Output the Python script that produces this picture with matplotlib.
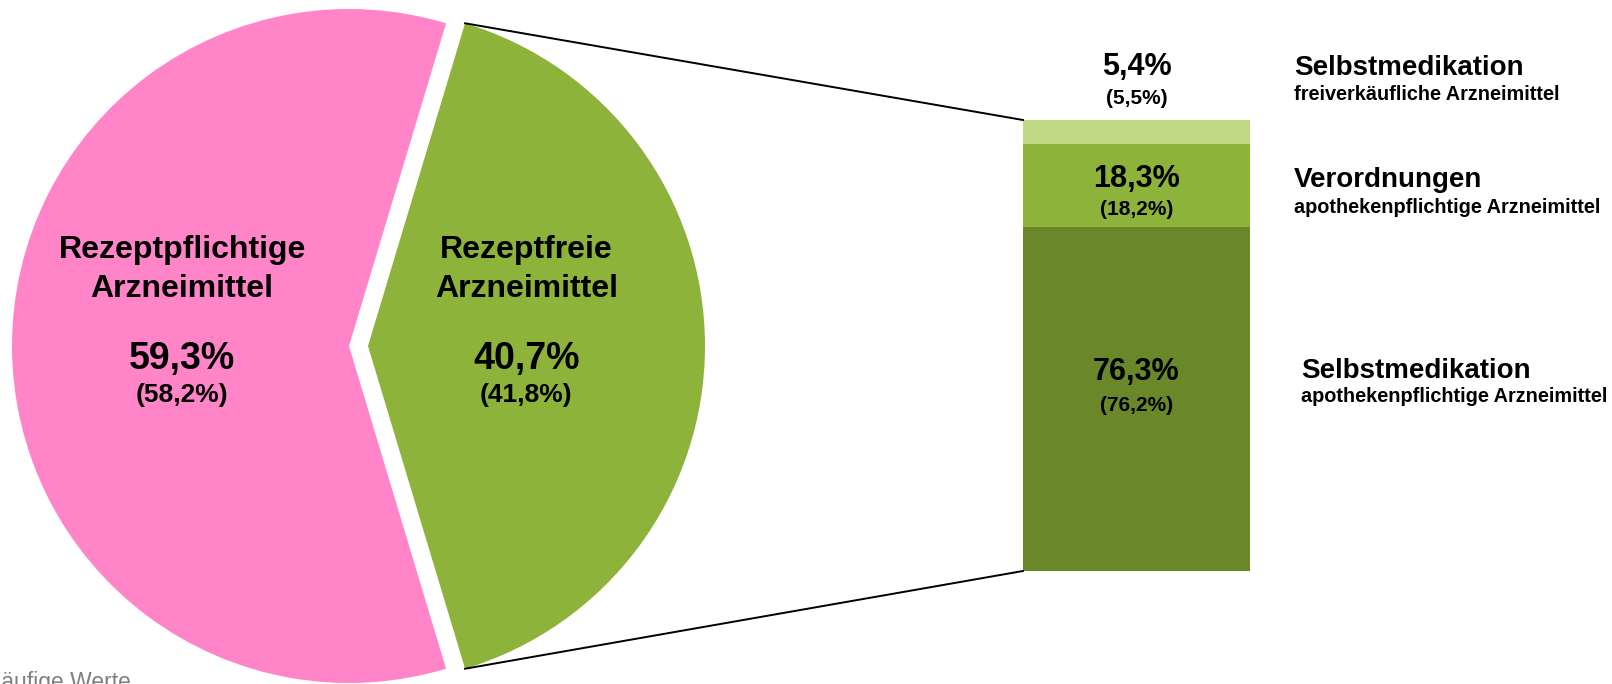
import numpy as np
import matplotlib.pyplot as plt

plt.rcParams['font.family'] = ['Liberation Sans', 'DejaVu Sans']

# pie: share of pharmacy sales (previous year in brackets)
pie_labels = ['Rezeptfreie\nArzneimittel', 'Rezeptpflichtige\nArzneimittel']
pie_values = [40.7, 59.3]
pie_prev = [41.8, 58.2]
pie_colors = ['#8DB33A', '#FF85C8']

# breakdown of the rezeptfreie part, bottom to top
bar_values = [76.3, 18.3, 5.4]
bar_prev = [76.2, 18.2, 5.5]
bar_colors = ['#6A8729', '#8DB33A', '#BFD985']
bar_titles = ['Selbstmedikation', 'Verordnungen', 'Selbstmedikation']
bar_subtitles = ['apothekenpflichtige Arzneimittel', 'apothekenpflichtige Arzneimittel',
                 'freiverkäufliche Arzneimittel']

footnote = '*Vorläufige Werte'


def fmt(v):
    return f'{v:.1f}%'.replace('.', ',')


W, H = 1612, 684
fig = plt.figure(figsize=(W / 100, H / 100), dpi=100)
ax = fig.add_axes([0, 0, 1, 1])

# pie, drawn in pixel coordinates
cx, cy, r = 349, 346, 337
gap = 19  # explode offset of the green slice, in pixels
start = -pie_values[0] * 3.6 / 2
ax.pie(pie_values, colors=pie_colors, startangle=start, counterclock=True,
       center=(cx, cy), radius=r, explode=[gap, 0],
       wedgeprops=dict(linewidth=0))

ax.set_xlim(0, W)
ax.set_ylim(H, 0)
ax.set_aspect('equal')
ax.axis('off')

# pie labels
label_x = [cx + gap + 0.47 * r, cx - 0.495 * r]
label_base = [258, 297, 369, 402]
for i, lab in enumerate(pie_labels):
    lx = label_x[i]
    lines = lab.split('\n')
    ax.text(lx, label_base[0], lines[0], ha='center', va='baseline', fontsize=23, fontweight='bold')
    ax.text(lx, label_base[1], lines[1], ha='center', va='baseline', fontsize=23, fontweight='bold')
    ax.text(lx, label_base[2], fmt(pie_values[i]), ha='center', va='baseline', fontsize=27, fontweight='bold')
    ax.text(lx, label_base[3], '(' + fmt(pie_prev[i]) + ')', ha='center', va='baseline',
            fontsize=19, fontweight='bold')

# stacked bar
bar_x, bar_w = 1136.5, 227
bar_bottom, bar_top = 571, 120
scale = (bar_bottom - bar_top) / sum(bar_values)
cum = 0
for v, c in zip(bar_values, bar_colors):
    top = bar_bottom - (cum + v) * scale
    ax.bar(bar_x, v * scale, bottom=top, width=bar_w, color=c, linewidth=0)
    cum += v

# connector lines from green wedge to bar
ga = np.deg2rad(pie_values[0] * 3.6 / 2)
gx = cx + gap + r * np.cos(ga)
ax.plot([gx, bar_x - bar_w / 2], [cy - r * np.sin(ga), bar_top], color='black', lw=1.4)
ax.plot([gx, bar_x - bar_w / 2], [cy + r * np.sin(ga), bar_bottom], color='black', lw=1.4)

# bar value labels and legends on the right
val_base = [(380, 411), (187, 215), (75, 104)]
title_base = [(378, 402), (187, 213), (75, 100)]
title_x = [1301, 1294, 1294]
for i in range(len(bar_values)):
    ax.text(bar_x, val_base[i][0], fmt(bar_values[i]), ha='center', va='baseline',
            fontsize=22, fontweight='bold')
    ax.text(bar_x, val_base[i][1], '(' + fmt(bar_prev[i]) + ')', ha='center', va='baseline',
            fontsize=15, fontweight='bold')
    ax.text(title_x[i], title_base[i][0], bar_titles[i], ha='left', va='baseline',
            fontsize=20, fontweight='bold')
    ax.text(title_x[i], title_base[i][1], bar_subtitles[i], ha='left', va='baseline',
            fontsize=14.3, fontweight='bold')

ax.text(131, 689, footnote, ha='right', va='baseline', fontsize=16.5, color='#7F7F7F', clip_on=False)

fig.savefig('out.png', dpi=100)
